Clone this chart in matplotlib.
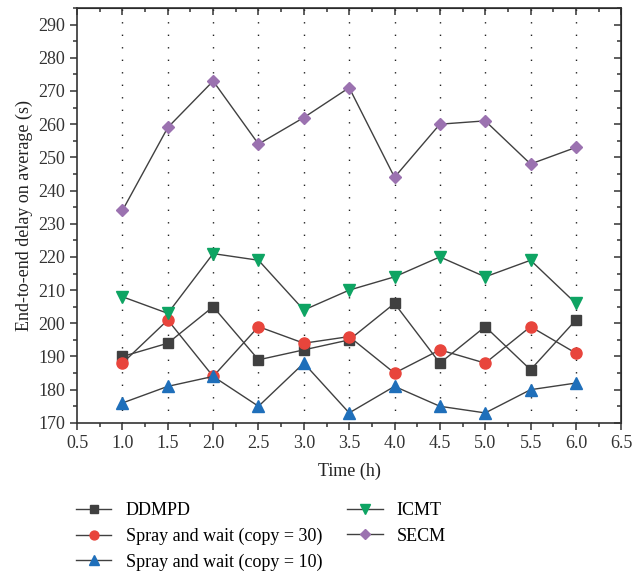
import matplotlib
matplotlib.use("Agg")
import matplotlib.pyplot as plt
from matplotlib.ticker import MultipleLocator

plt.rcParams['font.family'] = ['Liberation Serif', 'DejaVu Serif']

time_h = [1.0, 1.5, 2.0, 2.5, 3.0, 3.5, 4.0, 4.5, 5.0, 5.5, 6.0]
ddmpd = [190, 194, 205, 189, 192, 195, 206, 188, 199, 186, 201]
spray_30 = [188, 201, 184, 199, 194, 196, 185, 192, 188, 199, 191]
spray_10 = [176, 181, 184, 175, 188, 173, 181, 175, 173, 180, 182]
icmt = [208, 203, 221, 219, 204, 210, 214, 220, 214, 219, 206]
secm = [234, 259, 273, 254, 262, 271, 244, 260, 261, 248, 253]

series = [
    ("DDMPD", ddmpd, "s", "#404040", 6.5),
    ("Spray and wait (copy = 30)", spray_30, "o", "#e8453c", 8),
    ("Spray and wait (copy = 10)", spray_10, "^", "#1f6fba", 8.5),
    ("ICMT", icmt, "v", "#0ea463", 8.5),
    ("SECM", secm, "D", "#9b72b0", 6.5),
]

fig = plt.figure(figsize=(6.32, 5.73), dpi=100)
ax = fig.add_axes([0.122, 0.262, 0.861, 0.724])

# dotted vertical guides at each hour mark
for x in time_h:
    ax.axvline(x, color="#222222", linestyle=(0, (1, 8)), linewidth=1.0, zorder=0)

handles = []
for name, vals, mk, col, ms in series:
    h, = ax.plot(time_h, vals, color="#404040", linewidth=1.0, marker=mk,
                 markersize=ms, markerfacecolor=col, markeredgecolor=col,
                 label=name, zorder=3)
    handles.append(h)

ax.set_xlim(0.5, 6.5)
ax.set_ylim(170, 295)
ax.xaxis.set_major_locator(MultipleLocator(0.5))
ax.xaxis.set_minor_locator(MultipleLocator(0.25))
ax.yaxis.set_major_locator(MultipleLocator(10))
ax.yaxis.set_minor_locator(MultipleLocator(5))
ax.set_yticks(range(170, 291, 10))
ax.xaxis.set_major_formatter(matplotlib.ticker.FormatStrFormatter("%.1f"))

for sp in ax.spines.values():
    sp.set_linewidth(1.2)
    sp.set_color("#333333")

ax.tick_params(which="both", direction="out", top=False, right=False,
               labelsize=13, colors="#333333", width=1.1)
ax.tick_params(which="major", length=5)
ax.tick_params(which="minor", length=3)

# inward ticks along top and right edges
ax2 = ax.secondary_xaxis("top")
ax2.xaxis.set_major_locator(MultipleLocator(0.5))
ax2.xaxis.set_minor_locator(MultipleLocator(0.25))
ax2.tick_params(which="both", direction="in", labeltop=False, width=1.1, colors="#333333")
ax2.tick_params(which="major", length=5)
ax2.tick_params(which="minor", length=3)
ax3 = ax.secondary_yaxis("right")
ax3.yaxis.set_major_locator(MultipleLocator(10))
ax3.yaxis.set_minor_locator(MultipleLocator(5))
ax3.tick_params(which="both", direction="in", labelright=False, width=1.1, colors="#333333")
ax3.tick_params(which="major", length=5)
ax3.tick_params(which="minor", length=3)

ax.set_xlabel("Time (h)", fontsize=13, color="#222222", labelpad=8)
ax.set_ylabel("End-to-end delay on average (s)", fontsize=13, color="#222222")

fig.legend(handles=handles, loc="upper left", bbox_to_anchor=(0.095, 0.152),
           ncol=2, frameon=False, fontsize=13, handlelength=1.95,
           columnspacing=1.4, labelspacing=0.47, handletextpad=0.78,
           markerscale=0.8)

fig.savefig("out.png", dpi=100)
